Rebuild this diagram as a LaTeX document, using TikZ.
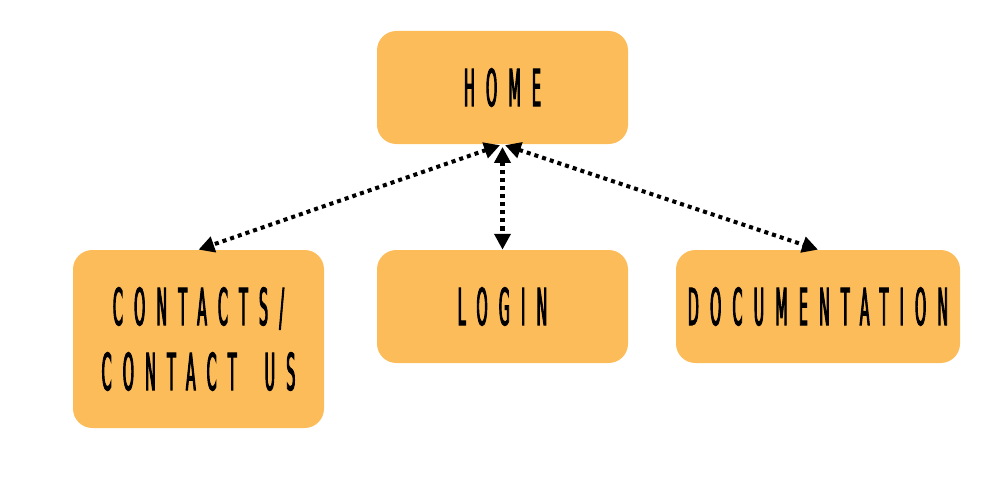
\documentclass[tikz,border=0pt]{standalone}
\usepackage{fontspec}
\usetikzlibrary{arrows.meta}
\newfontfamily\condfont[FakeStretch=0.28,LetterSpace=22,FakeBold=1.8]{DejaVu Sans}
\definecolor{boxorange}{HTML}{FDBC5A}
\begin{document}
\begin{tikzpicture}[x=0.02cm,y=-0.02cm,
  pagebox/.style={fill=boxorange, rounded corners=11pt, draw=none, align=center,
    font=\condfont\fontsize{29}{37}\selectfont, text=black, inner sep=0pt},
  link/.style={line width=2.3pt, dash pattern=on 2.3pt off 2.3pt,
    {Triangle[length=9pt,width=9pt]}-{Triangle[length=9pt,width=9pt]}, shorten <=1.5pt}
]
\useasboundingbox (0,0) rectangle (1000,500);
\node[pagebox, minimum width=251*0.02cm, minimum height=113*0.02cm] (home) at (502.5,87.5) {HOME};
\node[pagebox, minimum width=251*0.02cm, minimum height=178*0.02cm] (contacts) at (198.5,339) {CONTACTS/\\CONTACT\hspace{16pt}US};
\node[pagebox, minimum width=251*0.02cm, minimum height=113*0.02cm] (login) at (502.5,306.5) {LOGIN};
\node[pagebox, minimum width=284*0.02cm, minimum height=113*0.02cm, text width=284*0.02cm] (doc) at (818,306.5) {DOCUMENTATION};
\draw[link] (home.south) -- (contacts.north);
\draw[link] (home.south) -- (login.north);
\draw[link] (home.south) -- (doc.north);
\end{tikzpicture}
\end{document}
